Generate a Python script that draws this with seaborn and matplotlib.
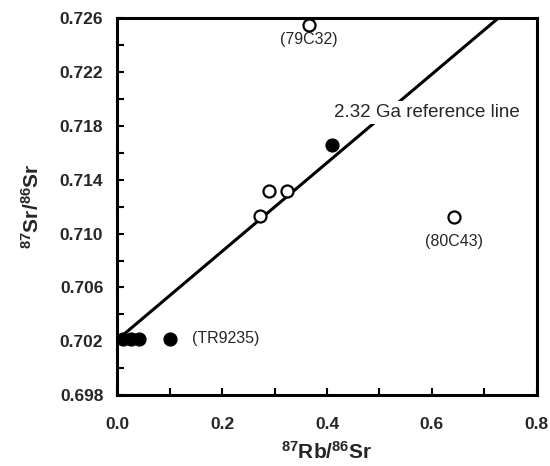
import numpy as np
import pandas as pd
import matplotlib
matplotlib.use("Agg")
import matplotlib.pyplot as plt
import seaborn as sns
from matplotlib.ticker import MultipleLocator

# data
open_rb = [0.365, 0.290, 0.324, 0.273, 0.643]
open_sr = [0.7255, 0.7132, 0.7132, 0.7113, 0.7112]
filled_rb = [0.409, 0.101, 0.012, 0.027, 0.042]
filled_sr = [0.7166, 0.7022, 0.7022, 0.7022, 0.7022]
ref_intercept = 0.7021
ref_slope = 0.0329
labels = ["(79C32)", "(80C43)", "(TR9235)"]
label_x = [0.365, 0.643, 0.142]
label_y = [0.7244, 0.7094, 0.7022]
x_ticks = [0.0, 0.2, 0.4, 0.6, 0.8]
y_ticks = [0.698, 0.702, 0.706, 0.710, 0.714, 0.718, 0.722, 0.726]

sns.set_theme(style="ticks")
plt.rcParams['font.family'] = ['Liberation Sans', 'DejaVu Sans']
plt.rcParams['mathtext.fontset'] = 'custom'
plt.rcParams['mathtext.bf'] = 'Liberation Sans:bold'
plt.rcParams['mathtext.rm'] = 'Liberation Sans'

fig = plt.figure(figsize=(5.5, 4.66), dpi=100)
ax = fig.add_axes([0.213, 0.152, 0.763, 0.809])

# reference line
x_end = (0.726 - ref_intercept) / ref_slope
line_df = pd.DataFrame({"x": [0.0, x_end],
                        "y": [ref_intercept, ref_intercept + ref_slope * x_end]})
sns.lineplot(data=line_df, x="x", y="y", ax=ax, color="black", linewidth=2.2, zorder=2)

df_open = pd.DataFrame({"x": open_rb, "y": open_sr})
df_fill = pd.DataFrame({"x": filled_rb, "y": filled_sr})
sns.scatterplot(data=df_open, x="x", y="y", ax=ax, s=75, facecolor="white",
                edgecolor="black", linewidth=1.6, zorder=4, clip_on=False)
sns.scatterplot(data=df_fill, x="x", y="y", ax=ax, s=85, color="black",
                edgecolor="black", linewidth=1.0, zorder=4)

ax.text(label_x[0], label_y[0], labels[0], ha="center", va="center", fontsize=11.5)
ax.text(label_x[1], label_y[1], labels[1], ha="center", va="center", fontsize=11.5)
ax.text(label_x[2], label_y[2], labels[2], ha="left", va="center", fontsize=11.5)

ax.text(0.414, 0.7190, "2.32 Ga reference line", ha="left", va="center", fontsize=13.5,
        zorder=3, bbox=dict(facecolor="white", edgecolor="none", pad=2))

ax.set_xlim(0, 0.8)
ax.set_ylim(0.698, 0.726)
ax.xaxis.set_minor_locator(MultipleLocator(0.1))
ax.yaxis.set_minor_locator(MultipleLocator(0.002))
ax.set_xticks(x_ticks)
ax.set_xticklabels([f"{v:.1f}" for v in x_ticks])
ax.set_yticks(y_ticks)
ax.set_yticklabels([f"{v:.3f}" for v in y_ticks])
ax.tick_params(which="both", direction="in", width=1.5, color="black",
               labelsize=12.5, length=5)
ax.tick_params(axis="x", which="both", pad=16)
ax.tick_params(axis="y", which="both", pad=10)
for lab in ax.get_xticklabels() + ax.get_yticklabels():
    lab.set_fontweight("bold")
for sp in ax.spines.values():
    sp.set_linewidth(2.2)
    sp.set_color("black")

ax.set_xlabel(r"$\mathbf{^{87}Rb/^{86}Sr}$", fontsize=15, labelpad=6)
ax.set_ylabel(r"$\mathbf{^{87}Sr/^{86}Sr}$", fontsize=15, labelpad=12)

fig.savefig("out.png", dpi=100)
